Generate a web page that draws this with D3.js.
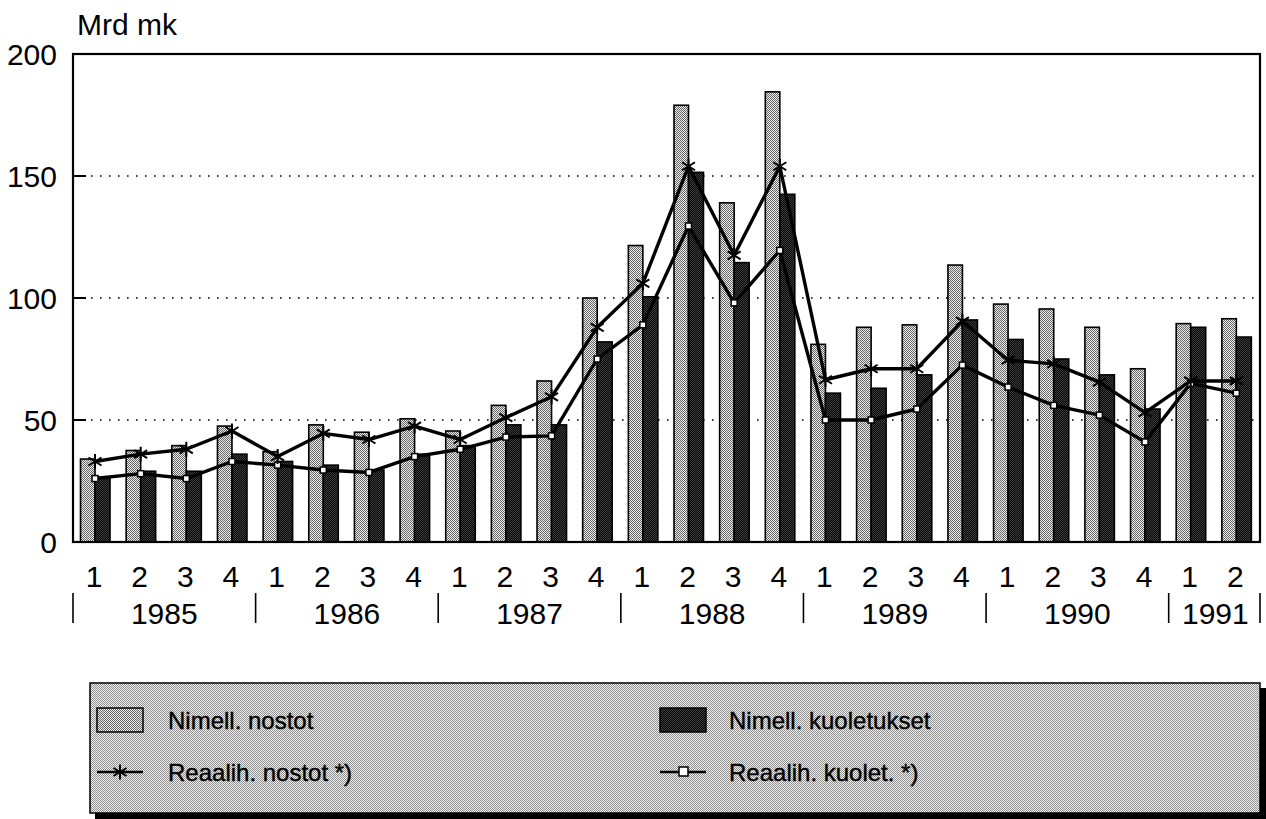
<!DOCTYPE html>
<html>
<head>
<meta charset="utf-8">
<script src="https://cdn.jsdelivr.net/npm/d3@7"></script>
<style>
    body { margin: 0; background: #fff; }
    svg { display: block; font-family: "Liberation Sans", Arial, sans-serif; }
</style>
</head>
<body>
<svg id="chart" width="1266" height="819"></svg>
<script>
// quarters 1985 Q1 .. 1991 Q2
const quarters = [1, 2, 3, 4, 1, 2, 3, 4, 1, 2, 3, 4, 1, 2, 3, 4, 1, 2, 3, 4, 1, 2, 3, 4, 1, 2];
const years = [`1985`, `1986`, `1987`, `1988`, `1989`, `1990`, `1991`];
const yTicks = [0, 50, 100, 150, 200];

// Mrd mk
const nimellNostot = [34, 37.5, 39.5, 47.5, 37, 48, 45, 50.5, 45.5, 56, 66, 100, 121.5, 179, 139, 184.5, 81, 88, 89, 113.5, 97.5, 95.5, 88, 71, 89.5, 91.5];
const nimellKuoletukset = [26.5, 29, 29, 36, 33, 31.5, 29.5, 36, 39.5, 48, 48, 82, 100.5, 151.5, 114.5, 142.5, 61, 63, 68.5, 91, 83, 75, 68.5, 54.5, 88, 84];
const reaalNostot = [33, 36, 38, 45.5, 35, 44.5, 42, 47.5, 42, 51, 59.5, 88, 106, 154, 117.5, 154, 66.5, 71, 71, 90.5, 74.5, 73, 65.5, 53, 66, 66];
const reaalKuolet = [26, 28, 26, 33, 31.5, 29.5, 28.5, 35, 38, 43, 43.5, 75, 89, 129.5, 98, 119.5, 50, 50, 54.5, 72.5, 63.5, 56, 52, 41, 65, 61];

const svg = d3.select(`#chart`);
const idx = d3.range(quarters.length);

const plotLeft = 73;
const plotRight = 1260;
const plotTop = 54;
const plotBottom = 542;

const x = d3.scaleBand()
    .domain(idx)
    .range([plotLeft, plotRight])
    .paddingInner(0)
    .paddingOuter(0);
const step = x.step();

const y = d3.scaleLinear()
    .domain([0, 200])
    .range([plotBottom, plotTop]);

// halftone patterns
const defs = svg.append(`defs`);
const checker = (id, a, b) => {
    const p = defs.append(`pattern`)
        .attr(`id`, id)
        .attr(`patternUnits`, `userSpaceOnUse`)
        .attr(`width`, 2)
        .attr(`height`, 2);
    p.append(`rect`).attr(`width`, 2).attr(`height`, 2).attr(`fill`, a);
    p.append(`rect`).attr(`x`, 0).attr(`y`, 0).attr(`width`, 1).attr(`height`, 1).attr(`fill`, b);
    p.append(`rect`).attr(`x`, 1).attr(`y`, 1).attr(`width`, 1).attr(`height`, 1).attr(`fill`, b);
};
checker(`lightFill`, `#ececec`, `#666`);
checker(`darkFill`, `#080808`, `#3c3c3c`);
checker(`legendFill`, `#f0f0f0`, `#8e8e8e`);

// grid lines
svg.append(`g`)
    .selectAll(`line`)
    .data(yTicks.filter(d => d > 0 && d < 200))
    .enter()
    .append(`line`)
    .attr(`x1`, plotLeft)
    .attr(`x2`, plotRight)
    .attr(`y1`, d => y(d))
    .attr(`y2`, d => y(d))
    .attr(`stroke`, `#000`)
    .attr(`stroke-width`, 1.6)
    .attr(`stroke-dasharray`, `1.6,7.4`);

// left tick stubs
svg.append(`g`)
    .selectAll(`line`)
    .data(yTicks.filter(d => d > 0 && d < 200))
    .enter()
    .append(`line`)
    .attr(`x1`, plotLeft)
    .attr(`x2`, plotLeft + 13)
    .attr(`y1`, d => y(d))
    .attr(`y2`, d => y(d))
    .attr(`stroke`, `#000`)
    .attr(`stroke-width`, 2);

// bars
const barW = 14.5;
const off = 7.5;

svg.append(`g`)
    .selectAll(`rect`)
    .data(idx)
    .enter()
    .append(`rect`)
    .attr(`x`, i => x(i) + off)
    .attr(`y`, i => y(nimellNostot[i]))
    .attr(`width`, barW)
    .attr(`height`, i => y(0) - y(nimellNostot[i]))
    .attr(`fill`, `url(#lightFill)`)
    .attr(`stroke`, `#000`)
    .attr(`stroke-width`, 1.6);

svg.append(`g`)
    .selectAll(`rect`)
    .data(idx)
    .enter()
    .append(`rect`)
    .attr(`x`, i => x(i) + off + barW)
    .attr(`y`, i => y(nimellKuoletukset[i]))
    .attr(`width`, barW + 0.5)
    .attr(`height`, i => y(0) - y(nimellKuoletukset[i]))
    .attr(`fill`, `url(#darkFill)`)
    .attr(`stroke`, `#000`)
    .attr(`stroke-width`, 1.6);

// lines
const px = i => x(i) + off + barW;
const line = (vals) => d3.line()
    .x(i => px(i))
    .y(i => y(vals[i]))(idx);

const starPath = `M0,-7.5L0,7.5M-6.5,-4L6.5,4M-6.5,4L6.5,-4`;

svg.append(`path`)
    .attr(`d`, line(reaalKuolet))
    .attr(`fill`, `none`)
    .attr(`stroke`, `#000`)
    .attr(`stroke-width`, 3.4)
    .attr(`stroke-linejoin`, `round`);

svg.append(`g`)
    .selectAll(`rect`)
    .data(idx)
    .enter()
    .append(`rect`)
    .attr(`x`, i => px(i) - 3)
    .attr(`y`, i => y(reaalKuolet[i]) - 3)
    .attr(`width`, 6)
    .attr(`height`, 6)
    .attr(`fill`, `#fff`)
    .attr(`stroke`, `#000`)
    .attr(`stroke-width`, 1.5);

svg.append(`path`)
    .attr(`d`, line(reaalNostot))
    .attr(`fill`, `none`)
    .attr(`stroke`, `#000`)
    .attr(`stroke-width`, 3.4)
    .attr(`stroke-linejoin`, `round`);

svg.append(`g`)
    .selectAll(`path`)
    .data(idx)
    .enter()
    .append(`path`)
    .attr(`d`, starPath)
    .attr(`transform`, i => `translate(${px(i)},${y(reaalNostot[i])})`)
    .attr(`stroke`, `#000`)
    .attr(`stroke-width`, 2)
    .attr(`fill`, `none`);

// frame
svg.append(`rect`)
    .attr(`x`, plotLeft)
    .attr(`y`, plotTop)
    .attr(`width`, plotRight - plotLeft)
    .attr(`height`, plotBottom - plotTop)
    .attr(`fill`, `none`)
    .attr(`stroke`, `#000`)
    .attr(`stroke-width`, 2.2);

// y labels
svg.append(`g`)
    .selectAll(`text`)
    .data(yTicks)
    .enter()
    .append(`text`)
    .attr(`x`, 57)
    .attr(`y`, d => y(d) + 11)
    .attr(`text-anchor`, `end`)
    .attr(`font-size`, 30)
    .text(d => d);

svg.append(`text`)
    .attr(`x`, 77)
    .attr(`y`, 35)
    .attr(`font-size`, 30)
    .text(`Mrd mk`);

// quarter labels
svg.append(`g`)
    .selectAll(`text`)
    .data(idx)
    .enter()
    .append(`text`)
    .attr(`x`, i => x(i) + 21)
    .attr(`y`, 587)
    .attr(`text-anchor`, `middle`)
    .attr(`font-size`, 30)
    .text(i => quarters[i]);

// year separators and labels
const yearStart = years.map((yr, k) => x(k * 4));
const yearEnd = years.map((yr, k) => k * 4 + 4 <= quarters.length ? x(k * 4) + step * 4 : plotRight);

svg.append(`g`)
    .selectAll(`line`)
    .data(yearStart.concat([plotRight]))
    .enter()
    .append(`line`)
    .attr(`x1`, d => d)
    .attr(`x2`, d => d)
    .attr(`y1`, 593)
    .attr(`y2`, 623)
    .attr(`stroke`, `#000`)
    .attr(`stroke-width`, 1.6);

svg.append(`g`)
    .selectAll(`text`)
    .data(years)
    .enter()
    .append(`text`)
    .attr(`x`, (d, k) => (yearStart[k] + yearEnd[k]) / 2 + (k === years.length - 1 ? 1 : 0))
    .attr(`y`, 624)
    .attr(`text-anchor`, `middle`)
    .attr(`font-size`, 30)
    .text(d => d);

// legend
const lg = svg.append(`g`);
lg.append(`rect`)
    .attr(`x`, 95)
    .attr(`y`, 688)
    .attr(`width`, 1171)
    .attr(`height`, 131)
    .attr(`fill`, `#000`);
lg.append(`rect`)
    .attr(`x`, 90)
    .attr(`y`, 683)
    .attr(`width`, 1170)
    .attr(`height`, 130)
    .attr(`fill`, `url(#legendFill)`)
    .attr(`stroke`, `#000`)
    .attr(`stroke-width`, 1.5);

const legendItems = [
    { label: `Nimell. nostot`, kind: `light`, lx: 97, tx: 168, ly: 720 },
    { label: `Nimell. kuoletukset`, kind: `dark`, lx: 660, tx: 729, ly: 720 },
    { label: `Reaalih. nostot *)`, kind: `star`, lx: 97, tx: 168, ly: 772 },
    { label: `Reaalih. kuolet. *)`, kind: `square`, lx: 660, tx: 729, ly: 772 },
];

legendItems.forEach(d => {
    if (d.kind === `light` || d.kind === `dark`) {
        lg.append(`rect`)
            .attr(`x`, d.lx)
            .attr(`y`, d.ly - 12)
            .attr(`width`, 46)
            .attr(`height`, 24)
            .attr(`fill`, d.kind === `light` ? `url(#lightFill)` : `url(#darkFill)`)
            .attr(`stroke`, `#000`)
            .attr(`stroke-width`, 1.5);
    } else {
        lg.append(`line`)
            .attr(`x1`, d.lx)
            .attr(`x2`, d.lx + 46)
            .attr(`y1`, d.ly)
            .attr(`y2`, d.ly)
            .attr(`stroke`, `#000`)
            .attr(`stroke-width`, 2.5);
        if (d.kind === `star`) {
            lg.append(`path`)
                .attr(`d`, starPath)
                .attr(`transform`, `translate(${d.lx + 23},${d.ly})`)
                .attr(`stroke`, `#000`)
                .attr(`stroke-width`, 2)
                .attr(`fill`, `none`);
        } else {
            lg.append(`rect`)
                .attr(`x`, d.lx + 19)
                .attr(`y`, d.ly - 5)
                .attr(`width`, 9)
                .attr(`height`, 9)
                .attr(`fill`, `#fff`)
                .attr(`stroke`, `#000`)
                .attr(`stroke-width`, 1.5);
        }
    }
    lg.append(`text`)
        .attr(`x`, d.tx)
        .attr(`y`, d.ly + 9)
        .attr(`font-size`, 24)
        .attr(`stroke`, `#000`)
        .attr(`stroke-width`, 0.4)
        .text(d.label);
});
</script>
</body>
</html>
